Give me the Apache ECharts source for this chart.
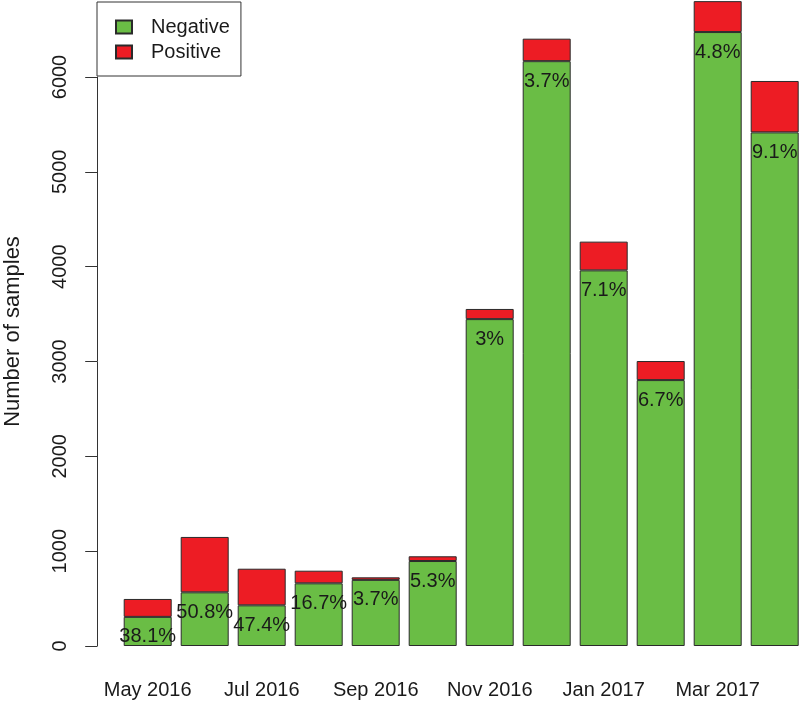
<!DOCTYPE html>
<html>
<head>
<meta charset="utf-8">
<script src="https://cdn.jsdelivr.net/npm/echarts@6/dist/echarts.min.js"></script>
<style>
html,body{margin:0;padding:0;background:#fff;}
#chart{width:800px;height:703px;}
</style>
</head>
<body>
<div id="chart"></div>
<script>
var categories = ['May 2016','Jun 2016','Jul 2016','Aug 2016','Sep 2016','Oct 2016','Nov 2016','Dec 2016','Jan 2017','Feb 2017','Mar 2017','Apr 2017'];
var negative = [307, 566, 429, 661, 697, 896, 3447, 6167, 3961, 2804, 6474, 5416];
var positive = [189, 584, 386, 133, 27, 50, 107, 237, 303, 201, 326, 542];
var pctLabels = ['38.1%','50.8%','47.4%','16.7%','3.7%','5.3%','3%','3.7%','7.1%','6.7%','4.8%','9.1%'];
var yTicks = [0, 1000, 2000, 3000, 4000, 5000, 6000];

var FONT = 'Liberation Sans, Arial, Helvetica, sans-serif';
var chart = echarts.init(document.getElementById('chart'), null, {renderer: 'canvas'});
chart.setOption({
  animation: false,
  backgroundColor: '#ffffff',
  textStyle: {fontFamily: FONT},
  grid: {left: 119.2, right: -3.2, top: 77, bottom: 57, containLabel: false, outerBoundsMode: 'none'},
  legend: {
    orient: 'vertical',
    left: 97,
    top: 2,
    padding: [15, 11, 14, 18],
    itemWidth: 16,
    itemHeight: 13,
    itemGap: 5,
    borderColor: '#333',
    borderWidth: 1,
    icon: 'rect',
    textStyle: {fontFamily: FONT, fontSize: 20, lineHeight: 20, color: '#1a1a1a', padding: [0, 0, 0, 14]},
    data: ['Negative', 'Positive']
  },
  xAxis: {
    type: 'category',
    data: categories,
    axisLine: {show: false},
    axisTick: {show: false},
    axisLabel: {interval: 1, fontSize: 20, margin: 34, color: '#1a1a1a', fontFamily: FONT}
  },
  yAxis: {
    type: 'value',
    min: yTicks[0],
    max: yTicks[yTicks.length - 1],
    interval: 1000,
    offset: 22,
    name: 'Number of samples',
    nameLocation: 'middle',
    nameRotate: 90,
    nameGap: 73,
    nameTextStyle: {fontSize: 22, color: '#1a1a1a', fontFamily: FONT, padding: [0, 0, 0, 60]},
    axisLine: {show: true, lineStyle: {color: '#333', width: 1}},
    axisTick: {show: true, length: 12, lineStyle: {color: '#333', width: 1}},
    axisLabel: {
      rotate: 90, margin: 27, fontSize: 20, color: '#1a1a1a', fontFamily: FONT,
      formatter: function (v) { return String(v); }
    },
    splitLine: {show: false}
  },
  series: [
    {
      name: 'Negative',
      type: 'bar',
      stack: 'total',
      barWidth: 48,
      clip: false,
      data: negative,
      itemStyle: {color: '#6abd45', borderColor: '#2a2a2a', borderWidth: 1},
      label: {
        show: true,
        position: 'insideTop',
        distance: 10,
        fontSize: 20,
        color: '#1a1a1a',
        fontFamily: FONT,
        formatter: function (p) { return pctLabels[p.dataIndex]; }
      },
      emphasis: {disabled: true}
    },
    {
      name: 'Positive',
      type: 'bar',
      stack: 'total',
      barWidth: 48,
      clip: false,
      data: positive,
      itemStyle: {color: '#ed1c24', borderColor: '#2a2a2a', borderWidth: 1},
      emphasis: {disabled: true}
    }
  ]
});
</script>
</body>
</html>
